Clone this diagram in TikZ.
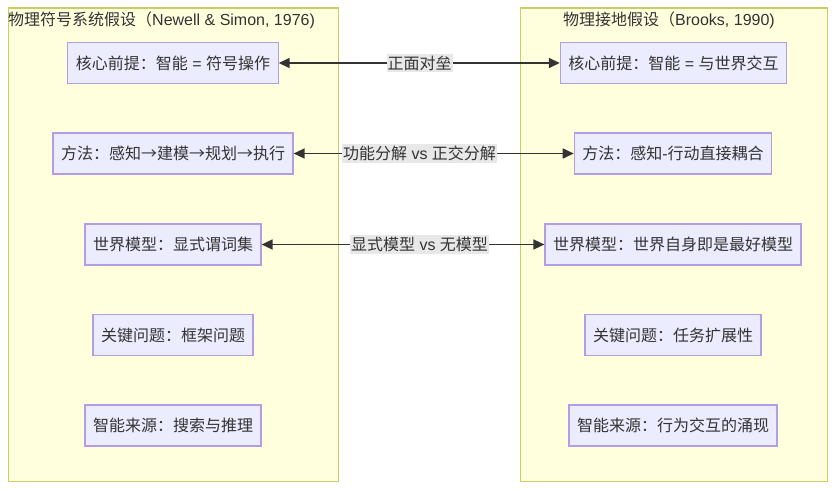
\documentclass[tikz,border=0pt]{standalone}
\usepackage{fontspec}
\setmainfont{Noto Sans CJK SC}
\newfontfamily\lat{Liberation Sans}
\usetikzlibrary{arrows.meta}
\definecolor{clfill}{HTML}{FFFFDE}
\definecolor{clborder}{HTML}{CCCC66}
\definecolor{ndfill}{HTML}{ECECFF}
\definecolor{ndborder}{HTML}{B39DE6}
\definecolor{txt}{HTML}{333333}
\definecolor{lblbg}{HTML}{E8E8E8}
\begin{document}
\begin{tikzpicture}[x=1pt,y=-1pt,
  cluster/.style={draw=clborder,fill=clfill,line width=1.2pt,anchor=north west,inner sep=0pt},
  ctitle/.style={text=txt,font=\fontsize{16}{19}\selectfont,inner sep=0pt},
  box/.style={draw=ndborder,fill=ndfill,line width=1.2pt,text=txt,font=\fontsize{16}{19}\selectfont,inner xsep=8pt,minimum height=41pt},
  link/.style={draw=txt,line width=1.5pt,{Triangle[length=11pt,width=10pt]}-{Triangle[length=11pt,width=10pt]}},
  lbl/.style={fill=lblbg,text=txt,font=\fontsize{16}{19}\selectfont,inner xsep=1pt,inner ysep=2pt}
]
\useasboundingbox (0,0) rectangle (834,489);
% clusters
\node[cluster,minimum width=330pt,minimum height=473.5pt] (L) at (8,7.5) {};
\node[cluster,minimum width=307pt,minimum height=473.5pt] (R) at (520,7.5) {};
\node[ctitle,anchor=west] (Lt) at (8,20) {物理符号系统假设（{\lat Newell \& Simon, 1976)}};
\node[ctitle] (Rt) at (669,20) {物理接地假设（{\lat Brooks, 1990)}};
% left nodes
\node[box] (l1) at (173,63) {核心前提：智能{\lat\ = }符号操作};
\node[box] (l2) at (173,153.5) {方法：感知→建模→规划→执行};
\node[box] (l3) at (173,244.5) {世界模型：显式谓词集};
\node[box] (l4) at (173,335) {关键问题：框架问题};
\node[box] (l5) at (173,425.5) {智能来源：搜索与推理};
% right nodes
\node[box] (r1) at (673.5,63) {核心前提：智能{\lat\ = }与世界交互};
\node[box] (r2) at (673,153.5) {方法：感知{\lat -}行动直接耦合};
\node[box] (r3) at (673,244.5) {世界模型：世界自身即是最好模型};
\node[box] (r4) at (673,335) {关键问题：任务扩展性};
\node[box] (r5) at (673,425.5) {智能来源：行为交互的涌现};
% links
\draw[link] (l1.east) -- (r1.west);
\draw[link] (l2.east) -- (r2.west);
\draw[link] (l3.east) -- (r3.west);
\node[lbl] (e1) at (419.5,63) {正面对垒};
\node[lbl] (e2) at (419.5,153.5) {功能分解{\lat\ vs }正交分解};
\node[lbl] (e3) at (419.5,244.5) {显式模型{\lat\ vs }无模型};
\end{tikzpicture}
\end{document}
